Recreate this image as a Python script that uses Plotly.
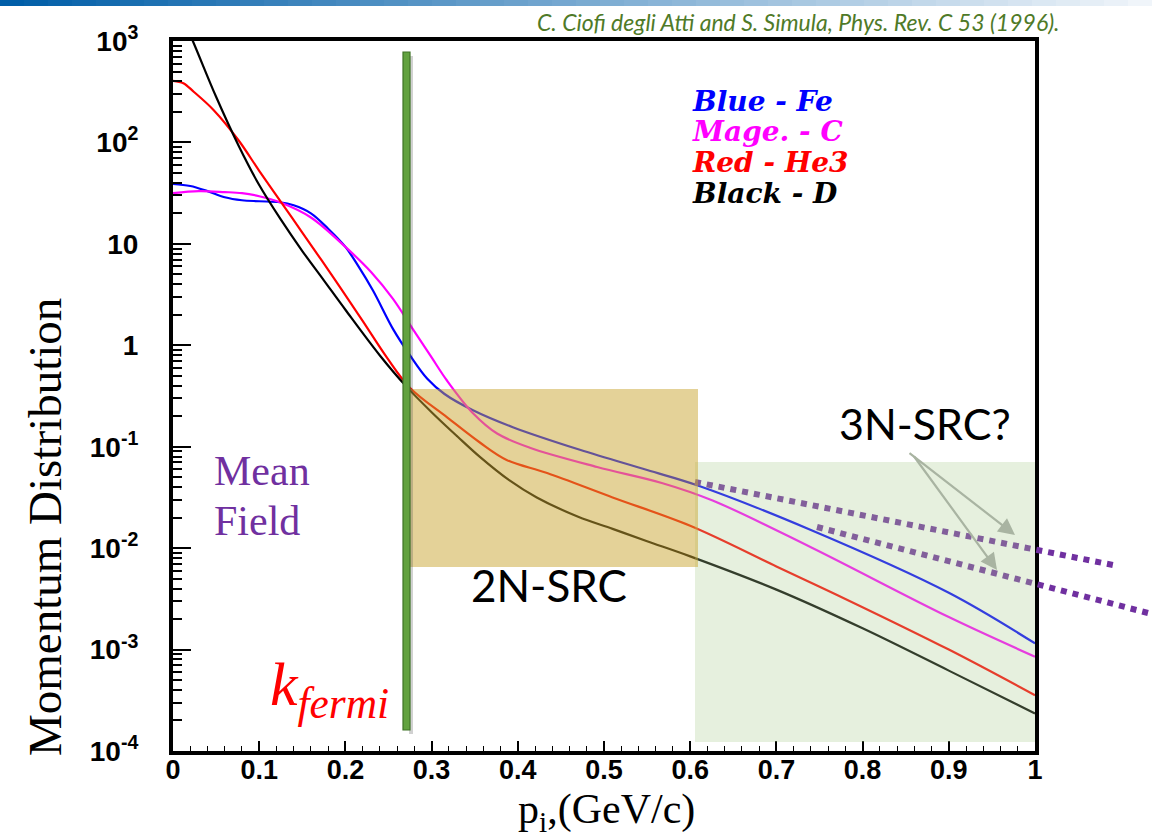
import numpy as np
import plotly.graph_objects as go

# ---------------- data ----------------
x_fe = [0, 0.02, 0.04, 0.06, 0.08, 0.1, 0.124, 0.14, 0.16, 0.18, 0.2, 0.215, 0.232, 0.256,
        0.275, 0.295, 0.315, 0.348, 0.395, 0.472, 0.55, 0.608, 0.74, 0.9, 1.0]
y_fe = [38.9, 37.2, 33.1, 28.8, 26.9, 26.3, 25.7, 24.0, 20.0, 14.1, 9.33, 6.03, 3.47, 1.41,
        0.794, 0.468, 0.331, 0.229, 0.155, 0.0933, 0.0589, 0.0417, 0.0151, 0.00363, 0.00115]

x_c = [0, 0.03, 0.06, 0.08, 0.1, 0.124, 0.16, 0.2, 0.23, 0.255, 0.279, 0.3, 0.318, 0.348,
       0.376, 0.414, 0.492, 0.568, 0.626, 0.74, 0.9, 1.0]
y_c = [31.6, 33.1, 32.4, 31.6, 29.5, 25.7, 18.2, 9.33, 5.25, 2.88, 1.41, 0.759, 0.447, 0.214,
       0.135, 0.0977, 0.0631, 0.0437, 0.0295, 0.0102, 0.00209, 0.000851]

x_he3 = [0, 0.012, 0.024, 0.047, 0.076, 0.1, 0.128, 0.15, 0.186, 0.22, 0.248, 0.275, 0.318,
         0.356, 0.387, 0.434, 0.51, 0.6, 0.7, 0.78, 0.9, 1.0]
y_he3 = [405, 384, 316, 209, 105, 52.5, 24.0, 12.9, 4.68, 1.74, 0.759, 0.380, 0.195,
         0.110, 0.0741, 0.0550, 0.0316, 0.0166, 0.0066, 0.00316, 0.00100, 0.000355]

x_d = [0, 0.023, 0.05, 0.076, 0.1, 0.125, 0.15, 0.175, 0.2, 0.24, 0.27, 0.3, 0.33, 0.356,
       0.39, 0.422, 0.47, 0.51, 0.55, 0.6, 0.7, 0.8, 0.9, 1.0]
y_d = [2818, 1000, 281.8, 93.3, 38.0, 17.4, 8.5, 4.37, 2.24, 0.794, 0.398, 0.219, 0.126, 0.0794,
       0.0468, 0.0316, 0.0204, 0.0155, 0.0117, 0.0083, 0.0039, 0.00162, 0.00062, 0.000234]

series_names = ["Fe", "C", "He3", "D"]
series_colors = ["#0000ff", "#ff00ff", "#ff0000", "#000000"]
legend_labels = ["Blue - Fe", "Mage. - C", "Red - He3", "Black - D"]

y_tickvals = [1e-4, 1e-3, 1e-2, 1e-1, 1, 10, 1e2, 1e3]
y_ticktext = ["10<sup>-4</sup>", "10<sup>-3</sup>", "10<sup>-2</sup>", "10<sup>-1</sup>",
              "1", "10", "10<sup>2</sup>", "10<sup>3</sup>"]

# ---------------- layout helpers ----------------
W, H = 1152, 839
L, R, T, B = 173, 1035, 41, 751   # plot area in page pixels


def px(xp, yp):
    """page pixel -> paper coordinates"""
    return (xp - L) / (R - L), (B - yp) / (B - T)


fig = go.Figure()
for xs, ys, nm, col in zip([x_fe, x_c, x_he3, x_d], [y_fe, y_c, y_he3, y_d],
                           series_names, series_colors):
    fig.add_trace(go.Scatter(x=xs, y=ys, mode="lines", name=nm,
                             line=dict(color=col, width=2.2, shape="spline", smoothing=1.0),
                             showlegend=False))

shapes = []
# top slide gradient band
n_seg = 48
c0 = np.array([0, 94, 168])
c1 = np.array([240, 245, 250])
for i in range(n_seg):
    f = i / (n_seg - 1)
    c = (c0 + (c1 - c0) * f).astype(int)
    xa, ya = px(i * W / n_seg, 0)
    xb, yb = px((i + 1) * W / n_seg + 1, 6)
    shapes.append(dict(type="rect", xref="paper", yref="paper", x0=xa, x1=xb, y0=yb, y1=ya,
                       fillcolor=f"rgb({c[0]},{c[1]},{c[2]})", line=dict(width=0), layer="above"))

# dotted purple 3N-SRC extrapolation lines
for (xa_, ya_, xb_, yb_) in [(695, 482, 1113, 565), (817, 527, 1148, 613)]:
    a = px(xa_, ya_)
    b = px(xb_, yb_)
    shapes.append(dict(type="line", xref="paper", yref="paper", x0=a[0], y0=a[1], x1=b[0], y1=b[1],
                       line=dict(color="#7030a0", width=6, dash="6px,6px"), layer="above"))

# light green 3N region
a = px(695, 462); b = px(1035, 742)
shapes.append(dict(type="rect", xref="paper", yref="paper", x0=a[0], y0=b[1], x1=b[0], y1=a[1],
                   fillcolor="rgb(172,205,145)", opacity=0.3, line=dict(width=0), layer="above"))
# tan 2N-SRC region
a = px(410, 389); b = px(698, 567)
shapes.append(dict(type="rect", xref="paper", yref="paper", x0=a[0], y0=b[1], x1=b[0], y1=a[1],
                   fillcolor="rgb(201,165,49)", opacity=0.5, line=dict(width=0), layer="above"))
# green k_fermi bar with shadow
a = px(409, 56); b = px(413, 734)
shapes.append(dict(type="rect", xref="paper", yref="paper", x0=a[0], y0=b[1], x1=b[0], y1=a[1],
                   fillcolor="rgb(70,70,70)", opacity=0.25, line=dict(width=0), layer="above"))
a = px(403, 52); b = px(410, 730)
shapes.append(dict(type="rect", xref="paper", yref="paper", x0=a[0], y0=b[1], x1=b[0], y1=a[1],
                   fillcolor="#62a23f", line=dict(color="#3f7326", width=1.2), layer="above"))

annotations = []


def txt(text, xp, yp, size, color, family, xanchor="center", yanchor="middle",
        weight="normal", style="normal", textangle=0):
    x, y = px(xp, yp)
    annotations.append(dict(text=text, x=x, y=y, xref="paper", yref="paper", showarrow=False,
                            xanchor=xanchor, yanchor=yanchor, textangle=textangle,
                            font=dict(size=size, color=color, family=family, weight=weight, style=style)))


# citation
txt("C. Ciofi degli Atti and S. Simula, Phys. Rev. C 53 (1996).", 1061, 22, 23, "#4f7a28",
    "Lato", xanchor="right", style="italic")
# legend text
for lab, col, yy in zip(legend_labels, series_colors, [101, 131, 162, 193]):
    txt(lab, 690, yy, 28, col, "DejaVu Serif", xanchor="left", weight="bold", style="italic")
# region labels
txt("Mean", 212, 471, 42, "#7030a0", "Liberation Serif", xanchor="left")
txt("Field", 212, 521, 42, "#7030a0", "Liberation Serif", xanchor="left")
txt("2N-SRC", 549, 585, 44, "#000000", "Lato")
txt("3N-SRC?", 925, 424, 43, "#000000", "Lato")
txt("k<sub>fermi</sub>", 268, 688, 62, "#ff0000", "Liberation Serif", xanchor="left", style="italic")
# axis titles
txt("Momentum Distribution", 45, 527, 47, "#000000", "Liberation Serif", textangle=-90)
txt("p<sub>i</sub>,(GeV/c)", 606, 812, 42, "#000000", "Liberation Serif")

# arrows
for (hx, hy, tx, ty) in [(1015, 535, 908, 452), (997, 570, 913, 455)]:
    x, y = px(hx, hy)
    annotations.append(dict(text="", x=x, y=y, xref="paper", yref="paper", showarrow=True,
                            ax=tx - hx, ay=ty - hy, arrowhead=2, arrowsize=1.5, arrowwidth=2.2,
                            arrowcolor="#a9b4a2", standoff=0, startstandoff=0))

minor_y = [k * 10.0 ** n for n in range(-4, 3) for k in range(2, 10)]

fig.update_layout(
    width=W, height=H,
    margin=dict(l=L, r=W - R, t=T, b=H - B, pad=0),
    paper_bgcolor="white", plot_bgcolor="white",
    shapes=shapes, annotations=annotations, showlegend=False,
)
fig.update_xaxes(range=[0, 1], tick0=0, dtick=0.1, ticks="inside", ticklen=10, tickwidth=1.5,
                 tickcolor="black", showline=True, linewidth=4, linecolor="black", mirror=True,
                 showgrid=False, zeroline=False, ticklabelstandoff=-8,
                 tickfont=dict(family="Liberation Sans", size=27, color="black", weight="bold"),
                 minor=dict(dtick=0.02, ticks="inside", ticklen=5, tickwidth=1.2, tickcolor="black",
                            showgrid=False))
fig.update_yaxes(type="log", range=[-4, 3], tickmode="array", tickvals=y_tickvals, ticktext=y_ticktext,
                 ticks="inside", ticklen=18, tickwidth=2, tickcolor="black", showline=True, linewidth=4,
                 linecolor="black", mirror=True, showgrid=False, zeroline=False, ticklabelstandoff=25,
                 tickfont=dict(family="Liberation Sans", size=28, color="black", weight="bold"),
                 minor=dict(tickvals=minor_y, ticks="inside", ticklen=9, tickwidth=1.5, tickcolor="black",
                            showgrid=False))

# remove the page's default body margin so the figure sits at the window's top-left corner
fig.write_html("out.html", config={"displayModeBar": False},
               post_script="document.body.style.margin='0px';")
